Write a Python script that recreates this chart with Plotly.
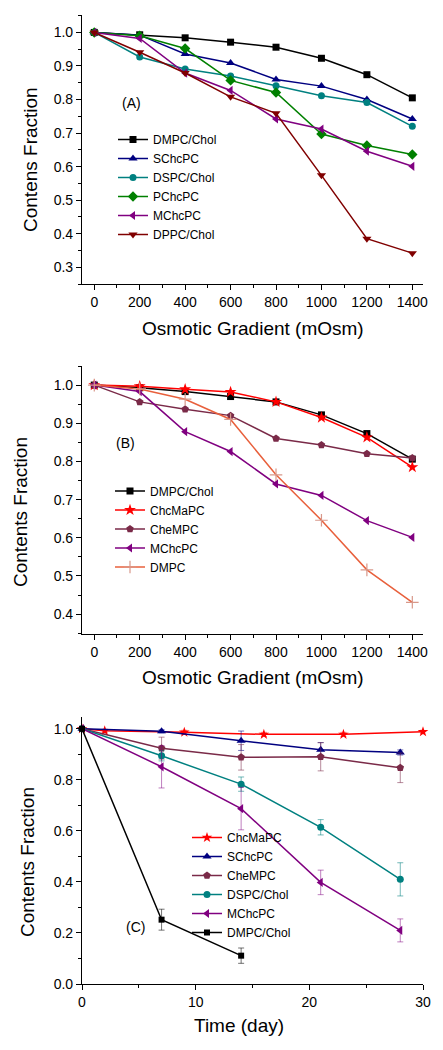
import plotly.graph_objects as go

# ---------------- data ----------------
osm = [0, 200, 400, 600, 800, 1000, 1200, 1400]

# Panel A
a_dmpc_chol = [1.0, 0.993, 0.984, 0.971, 0.956, 0.923, 0.874, 0.805]
a_schcpc = [1.0, 0.992, 0.936, 0.909, 0.860, 0.840, 0.800, 0.742]
a_dspc_chol = [1.0, 0.927, 0.891, 0.870, 0.841, 0.811, 0.791, 0.720]
a_pchcpc = [1.0, 0.990, 0.952, 0.857, 0.821, 0.697, 0.663, 0.636]
a_mchcpc = [1.0, 0.982, 0.879, 0.827, 0.742, 0.712, 0.646, 0.601]
a_dppc_chol = [1.0, 0.941, 0.879, 0.808, 0.759, 0.574, 0.385, 0.342]

# Panel B
b_dmpc_chol = [1.0, 0.993, 0.983, 0.970, 0.956, 0.922, 0.873, 0.806]
b_chcmapc = [1.0, 0.997, 0.989, 0.982, 0.956, 0.915, 0.863, 0.785]
b_chempc = [1.0, 0.956, 0.937, 0.920, 0.860, 0.843, 0.820, 0.809]
b_mchcpc = [1.0, 0.983, 0.878, 0.826, 0.741, 0.711, 0.645, 0.601]
b_dmpc = [1.0, 0.990, 0.963, 0.910, 0.765, 0.646, 0.516, 0.431]

# Panel C
days = [0, 7, 14, 21, 28]
days_chcmapc = [0, 2, 9, 16, 23, 30]
days_dmpc = [0, 7, 14]
c_chcmapc = [1.0, 0.992, 0.986, 0.978, 0.978, 0.988]
c_chcmapc_err = [0.0, 0.006, 0.008, 0.008, 0.008, 0.006]
c_schcpc = [1.0, 0.990, 0.953, 0.918, 0.907]
c_schcpc_err = [0.0, 0.006, 0.038, 0.028, 0.01]
c_chempc = [1.0, 0.924, 0.888, 0.890, 0.847]
c_chempc_err = [0.0, 0.043, 0.05, 0.055, 0.058]
c_dspc_chol = [1.0, 0.894, 0.783, 0.614, 0.410]
c_dspc_chol_err = [0.0, 0.02, 0.028, 0.03, 0.065]
c_mchcpc = [1.0, 0.851, 0.687, 0.398, 0.210]
c_mchcpc_err = [0.0, 0.083, 0.083, 0.048, 0.045]
c_dmpc_chol = [1.0, 0.252, 0.111]
c_dmpc_chol_err = [0.0, 0.041, 0.03]

# ---------------- styles ----------------
BLACK = "#000000"
NAVY = "#000080"
TEAL = "#008080"
GREEN = "#008000"
PURPLE = "#800080"
MAROON = "#800000"
RED = "#FF0000"
CHEM = "#7A2A48"
DMPC_LINE = "#E8603C"
DMPC_MK = "#D8988A"

FONT = "Liberation Sans, Arial, sans-serif"

fig = go.Figure()


def add(x, y, name, color, symbol, xa, ya, legend, size=7, err=None, mkcolor=None, lw=1.5,
        errcolor=None):
    kw = {}
    if err is not None:
        kw["error_y"] = dict(type="data", array=err, visible=True, thickness=1,
                             width=3, color=errcolor or color)
    fig.add_trace(go.Scatter(
        x=x, y=y, name=name, mode="lines+markers",
        line=dict(color=color, width=lw),
        marker=dict(symbol=symbol, size=size, color=mkcolor or color,
                    line=dict(width=0)),
        xaxis=xa, yaxis=ya, legend=legend, cliponaxis=False, **kw))


# Panel A
add(osm, a_dmpc_chol, "DMPC/Chol", BLACK, "square", "x", "y", "legend")
add(osm, a_schcpc, "SChcPC", NAVY, "triangle-up", "x", "y", "legend", size=8)
add(osm, a_dspc_chol, "DSPC/Chol", TEAL, "circle", "x", "y", "legend")
add(osm, a_pchcpc, "PChcPC", GREEN, "diamond", "x", "y", "legend", size=8)
add(osm, a_mchcpc, "MChcPC", PURPLE, "triangle-left", "x", "y", "legend", size=8)
add(osm, a_dppc_chol, "DPPC/Chol", MAROON, "triangle-down", "x", "y", "legend", size=8)

# Panel B
add(osm, b_dmpc_chol, "DMPC/Chol", BLACK, "square", "x2", "y2", "legend2")
add(osm, b_chcmapc, "ChcMaPC", RED, "star", "x2", "y2", "legend2", size=9)
add(osm, b_chempc, "CheMPC", CHEM, "pentagon", "x2", "y2", "legend2", size=8)
add(osm, b_mchcpc, "MChcPC", PURPLE, "triangle-left", "x2", "y2", "legend2", size=8)
fig.add_trace(go.Scatter(
    x=osm, y=b_dmpc, name="DMPC", mode="lines+markers",
    line=dict(color=DMPC_LINE, width=1.5),
    marker=dict(symbol="cross-thin", size=9, line=dict(color=DMPC_MK, width=1.2)),
    xaxis="x2", yaxis="y2", legend="legend2", cliponaxis=False))

# Panel C
add(days_chcmapc, c_chcmapc, "ChcMaPC", RED, "star", "x3", "y3", "legend3", size=8,
    err=c_chcmapc_err, errcolor="rgba(255,0,0,0.5)")
add(days, c_schcpc, "SChcPC", NAVY, "triangle-up", "x3", "y3", "legend3", size=8,
    err=c_schcpc_err, errcolor="rgba(0,0,128,0.55)")
add(days, c_chempc, "CheMPC", CHEM, "pentagon", "x3", "y3", "legend3", size=8,
    err=c_chempc_err, errcolor="rgba(122,42,72,0.55)")
add(days, c_dspc_chol, "DSPC/Chol", TEAL, "circle", "x3", "y3", "legend3",
    err=c_dspc_chol_err, errcolor="rgba(0,128,128,0.55)")
add(days, c_mchcpc, "MChcPC", PURPLE, "triangle-left", "x3", "y3", "legend3", size=8,
    err=c_mchcpc_err, errcolor="rgba(128,0,128,0.5)")
add(days_dmpc, c_dmpc_chol, "DMPC/Chol", BLACK, "square", "x3", "y3", "legend3", size=6,
    err=c_dmpc_chol_err, errcolor="rgba(0,0,0,0.55)")

W, H = 443, 1050
xdom = [82 / W, 423 / W]


def ydom(top, bot):
    return [1 - bot / H, 1 - top / H]


tickfont = dict(family=FONT, size=14, color="#000")
common = dict(showline=True, linecolor="#000", linewidth=1.2, ticks="outside",
              ticklen=5, tickwidth=1, tickcolor="#000", showgrid=False,
              zeroline=False, tickfont=tickfont, mirror=False, automargin=False)
minor = dict(ticks="outside", ticklen=3, tickwidth=1, tickcolor="#000", showgrid=False)

lay = dict(
    width=W, height=H, margin=dict(l=0, r=0, t=0, b=0, autoexpand=False),
    paper_bgcolor="white", plot_bgcolor="white", showlegend=True,
    font=dict(family=FONT, color="#000"),
    xaxis=dict(domain=xdom, anchor="y", range=[-54, 1447], tickmode="linear", tick0=0,
               dtick=200, minor=dict(dtick=100, **minor), **common),
    yaxis=dict(domain=ydom(15, 284), anchor="x", range=[0.25, 1.052], tickmode="linear",
               tick0=0, dtick=0.1, tickformat=".1f", minor=dict(dtick=0.05, **minor), **common),
    xaxis2=dict(domain=xdom, anchor="y2", range=[-54, 1447], tickmode="linear", tick0=0,
                dtick=200, minor=dict(dtick=100, **minor), **common),
    yaxis2=dict(domain=ydom(366, 634), anchor="x2", range=[0.348, 1.05], tickmode="linear",
                tick0=0, dtick=0.1, tickformat=".1f", minor=dict(dtick=0.05, **minor), **common),
    xaxis3=dict(domain=xdom, anchor="y3", range=[0, 30], tickmode="linear", tick0=0,
                dtick=10, minor=dict(dtick=5, **minor), **common),
    yaxis3=dict(domain=ydom(717, 984), anchor="x3", range=[0, 1.046], tickmode="linear",
                tick0=0, dtick=0.2, tickformat=".1f", minor=dict(dtick=0.1, **minor), **common),
)

legfont = dict(family=FONT, size=12, color="#000")
for key, lx, ly in [("legend", 113, 187), ("legend2", 110, 529), ("legend3", 187, 885)]:
    lay[key] = dict(x=lx / W, y=1 - ly / H, xanchor="left", yanchor="middle",
                    bgcolor="rgba(0,0,0,0)", borderwidth=0, font=legfont,
                    itemwidth=30, tracegroupgap=0)

fig.update_layout(**lay)

titlefont = dict(family=FONT, size=19, color="#000")
anns = [
    ("Contens Fraction", 30, 160, -90),
    ("Contents Fraction", 20, 512, -90),
    ("Contents Fraction", 27, 862, -90),
    ("Osmotic Gradient (mOsm)", 253, 328, 0),
    ("Osmotic Gradient (mOsm)", 253, 677, 0),
    ("Time (day)", 239, 1025, 0),
]
for text, px, py, ang in anns:
    fig.add_annotation(text=text, x=px / W, y=1 - py / H, xref="paper", yref="paper",
                       showarrow=False, textangle=ang, font=titlefont,
                       xanchor="center", yanchor="middle")

for text, px, py in [("(A)", 131, 103), ("(B)", 125, 443), ("(C)", 135, 927)]:
    fig.add_annotation(text=text, x=px / W, y=1 - py / H, xref="paper", yref="paper",
                       showarrow=False, font=dict(family=FONT, size=14, color="#000"),
                       xanchor="center", yanchor="middle")

fig.write_html("out.html",
               config={"displayModeBar": False},
               post_script="document.body.style.margin='0px';"
                           "document.body.style.overflow='hidden';")
